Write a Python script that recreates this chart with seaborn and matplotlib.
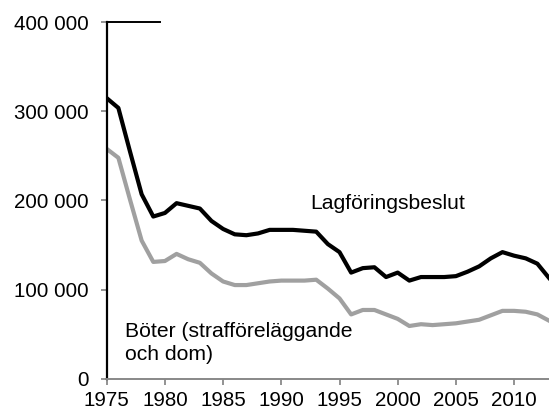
"""
Lagföringsbeslut och böter 1975–2013 — linjediagram
"""

import matplotlib
matplotlib.use("Agg")
import matplotlib.pyplot as plt
import matplotlib.ticker as mticker
import pandas as pd
import seaborn as sns

# ─── data (läst ur bilden, i tusental) ─────────────────────────────
years = list(range(1975, 2014))
lagforing = [315, 304, 255, 207, 182, 186, 197, 194, 191, 177,
             168, 162, 161, 163, 167, 167, 167, 166, 165, 151,
             142, 119, 124, 125, 114, 119, 110, 114, 114, 114,
             115, 120, 126, 135, 142, 138, 135, 129, 113]
boter = [258, 248, 201, 155, 131, 132, 140, 134, 130, 118,
         109, 105, 105, 107, 109, 110, 110, 110, 111, 101,
         90, 72, 77, 77, 72, 67, 59, 61, 60, 61,
         62, 64, 66, 71, 76, 76, 75, 72, 65]

df = pd.DataFrame({
    "year": years * 2,
    "value": [v * 1000 for v in lagforing] + [v * 1000 for v in boter],
    "serie": ["Lagföringsbeslut"] * len(years) + ["Böter"] * len(years),
})

PALETTE = {"Lagföringsbeslut": "#000000", "Böter": "#a0a0a0"}

plt.rcParams["font.family"] = ["Liberation Sans", "DejaVu Sans"]

fig = plt.figure(figsize=(5.49, 4.12), dpi=100, facecolor="white")
ax = fig.add_axes([0.1944, 0.0813, 0.8056, 0.8641])
ax.set_facecolor("white")

sns.lineplot(
    data=df,
    x="year",
    y="value",
    hue="serie",
    hue_order=["Böter", "Lagföringsbeslut"],
    palette=PALETTE,
    linewidth=3.0,
    legend=False,
    ax=ax,
)

ax.set_xlim(1975, 2013)
ax.set_ylim(0, 400000)
ax.set_xticks(range(1975, 2011, 5))
ax.set_yticks(range(0, 400001, 100000))
ax.yaxis.set_major_formatter(
    mticker.FuncFormatter(lambda v, p: f"{int(v):,}".replace(",", " "))
)
ax.set_xlabel("")
ax.set_ylabel("")
ax.grid(False)

# axlar
for side in ("top", "right"):
    ax.spines[side].set_visible(False)
ax.spines["left"].set_color("black")
ax.spines["left"].set_linewidth(1.6)
ax.spines["bottom"].set_color("#888888")
ax.spines["bottom"].set_linewidth(1.4)
ax.plot([0, 0.12], [1, 1], transform=ax.transAxes, color="black",
        linewidth=1.4, clip_on=False)

ax.tick_params(axis="both", which="major", direction="out", length=4.3,
               width=1.2, color="#808080", labelsize=14.8, labelcolor="black")
ax.tick_params(axis="y", pad=9)
ax.tick_params(axis="x", pad=5)

# etiketter
ax.text(1992.5, 197000, "Lagföringsbeslut", fontsize=15.2,
        ha="left", va="center")
ax.text(1976.6, 63000, "Böter (strafföreläggande\noch dom)", fontsize=15.2,
        ha="left", va="top", linespacing=1.25)

fig.savefig("out.png", dpi=100, facecolor="white")
plt.close(fig)
